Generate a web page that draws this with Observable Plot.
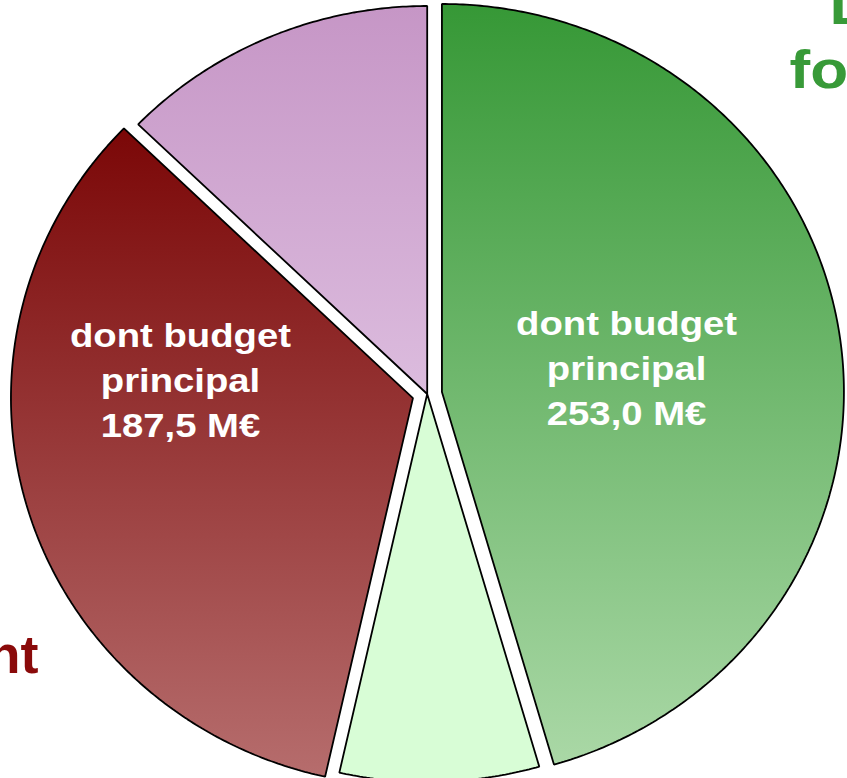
<!DOCTYPE html>
<html>
<head>
<meta charset="utf-8">
<script src="https://cdn.jsdelivr.net/npm/d3@7"></script>
<script src="https://cdn.jsdelivr.net/npm/@observablehq/plot@0.6"></script>
<style>
  html, body { margin: 0; padding: 0; background: #fff; }
  #chart { width: 847px; height: 778px; overflow: hidden; }
  #chart svg { overflow: hidden; }
</style>
</head>
<body>
<div id="chart"></div>
<script>
// ---- data ----
const categories = [
  "Fonctionnement – budget principal",
  "Fonctionnement – autres budgets",
  "Investissement – budget principal",
  "Investissement – autres budgets"
];
const values = [253.0, 44.5, 187.5, 71.0];
const isPrincipal = [true, false, true, false];
const groupTitles = ["Les dépenses de", "fonctionnement", "d'investissement"];
const labelPrefix = "dont budget\nprincipal";
const unit = "M€";

// ---- styles / options ----
const W = 847, H = 778;
const cx = 426.7, cy = 393.5, rx = 402, ry = 388;
const gradients = [
  {id: "g0", top: "#369836", bottom: "#aad8a6"},
  {id: "g1", top: "#d8fdd6", bottom: "#d8fdd6"},
  {id: "g2", top: "#7b0707", bottom: "#b66d6d"},
  {id: "g3", top: "#c696c6", bottom: "#dcbcde"}
];
const explode = [0.037, 0, 0.037, 0];
const labelPlacement = [{r: 0.467, turn: 18.5}, null, {r: 0.587, turn: 6.8}, null];
const font = "'Liberation Sans', Arial, Helvetica, sans-serif";
const labelColor = "white";
const foncColor = "#389a38";
const invColor = "#8a0a0a";

// ---- geometry from data ----
const arcs = d3.pie().sort(null).value(d => d)(values);
const rows = [];
const labels = [];
const fmt = v => d3.format(".1f")(v).replace(".", ",");
arcs.forEach((a, i) => {
  const mid = (a.startAngle + a.endAngle) / 2;
  const ox = explode[i] * Math.sin(mid), oy = explode[i] * Math.cos(mid);
  rows.push({slice: i, x: ox, y: oy});
  const n = Math.max(2, Math.ceil((a.endAngle - a.startAngle) / (Math.PI / 360)));
  for (let k = 0; k <= n; ++k) {
    const t = a.startAngle + (a.endAngle - a.startAngle) * k / n;
    rows.push({slice: i, x: ox + Math.sin(t), y: oy + Math.cos(t)});
  }
  if (isPrincipal[i] && labelPlacement[i]) {
    const p = labelPlacement[i];
    const t = mid + p.turn * Math.PI / 180;
    labels.push({
      x: ox + p.r * Math.sin(t),
      y: oy + p.r * Math.cos(t),
      text: `${labelPrefix}\n${fmt(values[i])} ${unit}`
    });
  }
});

const defsMark = () => {
  const ns = "http://www.w3.org/2000/svg";
  const defs = document.createElementNS(ns, "defs");
  for (const g of gradients) {
    const lg = document.createElementNS(ns, "linearGradient");
    lg.setAttribute("id", g.id);
    lg.setAttribute("x1", "0"); lg.setAttribute("y1", "0");
    lg.setAttribute("x2", "0"); lg.setAttribute("y2", "1");
    [[0, g.top], [1, g.bottom]].forEach(([o, c]) => {
      const s = document.createElementNS(ns, "stop");
      s.setAttribute("offset", o);
      s.setAttribute("stop-color", c);
      lg.appendChild(s);
    });
    defs.appendChild(lg);
  }
  return defs;
};

const chart = Plot.plot({
  width: W,
  height: H,
  margin: 0,
  style: {fontFamily: font, background: "white", overflow: "hidden"},
  x: {domain: [-cx / rx, (W - cx) / rx], axis: null},
  y: {domain: [-(H - cy) / ry, cy / ry], axis: null},
  marks: [
    defsMark,
    ...arcs.map((a, i) => Plot.line(rows.filter(r => r.slice === i), {
      x: "x", y: "y",
      fill: `url(#${gradients[i].id})`,
      stroke: "black",
      strokeWidth: 1.8,
      curve: "linear-closed",
      strokeLinejoin: "miter"
    })),
    Plot.text(labels, {
      x: "x", y: "y", text: "text",
      fill: labelColor, fontSize: 33, fontWeight: "bold",
      lineAnchor: "bottom", lineHeight: 1.364, textAnchor: "middle"
    }),
    Plot.text([groupTitles[0]], {
      text: d => d, frameAnchor: "top-left", dx: 829, dy: 23,
      textAnchor: "start", lineAnchor: "bottom",
      fill: foncColor, fontSize: 54, fontWeight: "bold"
    }),
    Plot.text([groupTitles[1]], {
      text: d => d, frameAnchor: "top-left", dx: 789, dy: 87,
      textAnchor: "start", lineAnchor: "bottom",
      fill: foncColor, fontSize: 54, fontWeight: "bold"
    }),
    Plot.text([groupTitles[2]], {
      text: d => d, frameAnchor: "top-left", dx: 38, dy: 672,
      textAnchor: "end", lineAnchor: "bottom",
      fill: invColor, fontSize: 54, fontWeight: "bold"
    })
  ]
});
// widen the glyphs horizontally like the reference
const stretch = (color, k) => {
  d3.select(chart).selectAll("text").each(function () {
    const own = this.getAttribute("fill");
    const parent = this.parentNode && this.parentNode.getAttribute && this.parentNode.getAttribute("fill");
    if ((own || parent) !== color) return;
    const t = this.getAttribute("transform") || "";
    this.setAttribute("transform", `${t} scale(${k},1)`);
  });
};
stretch(labelColor, 1.16);
stretch(foncColor, 1.15);
document.getElementById("chart").appendChild(chart);
</script>
</body>
</html>
